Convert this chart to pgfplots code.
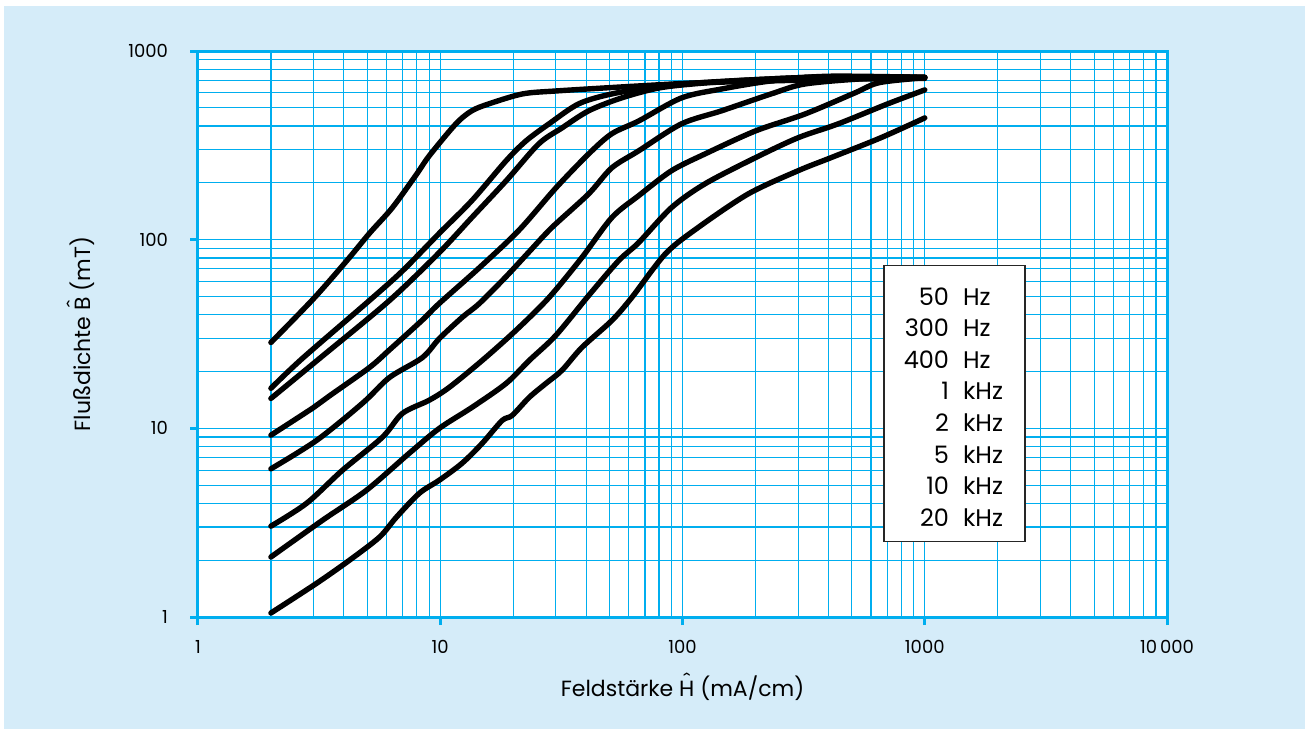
\documentclass[border=0pt]{standalone}
\usepackage{fontspec}
\setmainfont{Poppins}
\usepackage{pgfplots}
\pgfplotsset{compat=1.18}
\definecolor{bgblue}{HTML}{D5ECF9}
\definecolor{gridcyan}{HTML}{00AEEF}
\newcommand{\hatted}[1]{\ooalign{#1\cr\hidewidth\raisebox{0.3em}{\char"02C6}\hidewidth\cr}}
\begin{document}
\begin{tikzpicture}
\useasboundingbox (-99pt,-56pt) rectangle (553.5pt,308.5pt);
\fill[white] (-99pt,-56pt) rectangle (553.5pt,308.5pt);
\fill[bgblue] (-97pt,-56pt) rectangle (553.5pt,305.5pt);
\begin{axis}[
  at={(0,0)}, anchor=south west,
  scale only axis, width=484.5pt, height=283pt,
  xmode=log, ymode=log,
  xmin=1, xmax=10000, ymin=1, ymax=1000,
  axis background/.style={fill=white},
  grid=both,
  major grid style={gridcyan, line width=0.7pt},
  minor grid style={gridcyan, line width=0.6pt},
  axis line style={gridcyan, line width=1.5pt},
  tick style={gridcyan, line width=1.5pt},
  tick align=outside,
  major tick length=4pt, minor tick length=0pt,
  xtick pos=left, ytick pos=left,
  xtick={1,10,100,1000,10000},
  xticklabels={1,10,100,1000,10\,000},
  ytick={1,10,100,1000},
  yticklabels={1,10,100,1000},
  xticklabel style={font=\fontsize{9}{10}\selectfont, text=black, yshift=-4pt},
  yticklabel style={font=\fontsize{9}{10}\selectfont, text=black, xshift=-7.5pt},
  xlabel={Feldstärke \hatted{H} (mA/cm)},
  ylabel={Flußdichte \hatted{B} (mT)},
  xlabel style={font=\fontsize{11}{13}\selectfont, at={(axis description cs:0.5,-0.1254)}, anchor=center},
  ylabel style={font=\fontsize{11}{13}\selectfont, at={(axis description cs:-0.1197,0.5)}, anchor=center},
  curve/.style={black, line width=2.7pt, smooth, mark=none, line join=round, line cap=round},
]
% 50 Hz
\addplot[curve] coordinates {(2,28.5)(3,48.7)(4.1,77)(5.1,108)(6.35,148)(8,223)(9,278)(11.6,411)(13.5,482)(15.9,525)(21.8,592)(30,614)(66,653)(116,678)(300,700)(600,712)(1000,715)};
% 300 Hz
\addplot[curve] coordinates {(2,16.3)(2.7,23.5)(5.1,47.6)(7,68.5)(9.9,108)(13.5,161)(18.7,262)(22.6,334)(28.1,411)(37.3,525)(51,592)(80,650)(120,680)(200,705)(400,730)(1000,725)};
% 400 Hz
\addplot[curve] coordinates {(2,14.4)(3.18,23.5)(6.17,47.6)(9.9,85.4)(13.5,131)(18.7,205)(25.5,322)(31.8,391)(41,482)(56,564)(80,637)(120,675)(200,705)(400,730)(1000,725)};
% 1 kHz
\addplot[curve] coordinates {(2,9.2)(3,12.9)(3.5,14.9)(5.1,21)(6.2,26.2)(8.4,37.3)(9.9,45.9)(14.5,71)(21.1,112)(30,188)(41,285)(51,364)(66,426)(99,564)(145,629)(232,694)(400,735)(1000,725)};
% 2 kHz
\addplot[curve] coordinates {(2,6.1)(3.09,8.64)(4.78,13.6)(6.17,18.6)(8.43,23.7)(9.91,29.9)(12.3,38.7)(14.5,45.9)(18.7,63.7)(23.3,86.4)(28.9,116)(41,175)(51,240)(66,296)(99,411)(145,482)(232,592)(321,669)(582,715)(1000,725)};
% 5 kHz
\addplot[curve] coordinates {(2,3.03)(2.81,4.01)(3.95,6.0)(5.77,8.97)(6.98,12.0)(9.01,14.1)(10.9,16.5)(14.9,22.9)(20.5,33.0)(28.1,49.3)(38.4,80.3)(51.1,131)(65.9,171)(90.1,232)(124,285)(200,377)(321,464)(515,600)(650,680)(1000,722)};
% 10 kHz
\addplot[curve] coordinates {(2,2.08)(3.27,3.26)(4.96,4.70)(7.45,7.38)(9.91,10)(13.5,12.9)(18.7,17.3)(23.3,22.9)(30,31.1)(41,50.6)(54.5,77.4)(65.9,96.4)(90.1,148)(124,198)(200,272)(300,347)(439,411)(704,525)(1000,622)};
% 20 kHz
\addplot[curve] coordinates {(2,1.05)(3.09,1.51)(4.22,2.0)(5.61,2.65)(6.59,3.38)(8.2,4.53)(9.91,5.31)(12.3,6.53)(14.9,8.33)(18,11.0)(19.8,11.7)(23.3,14.6)(27.3,17.3)(31.8,20.3)(38.4,26.8)(51.1,37.3)(61.7,49.3)(85.1,84.3)(116,116)(187,175)(300,232)(410,272)(659,347)(1000,442)};
\node[draw=black!85, line width=0.7pt, fill=white, inner sep=0pt, anchor=north west]
  at (rel axis cs:0.707,0.622)
  {\fontsize{12}{15.8}\selectfont
   \begin{tabular}{@{\hspace{10pt}}r@{\hspace{7pt}}l@{\hspace{11pt}}}
   \rule{0pt}{19.75pt}50 & Hz\\
   300 & Hz\\
   400 & Hz\\
   1 & kHz\\
   2 & kHz\\
   5 & kHz\\
   10 & kHz\\
   \rule[-7.5pt]{0pt}{7.5pt}20 & kHz
   \end{tabular}};
\end{axis}
\end{tikzpicture}
\end{document}
